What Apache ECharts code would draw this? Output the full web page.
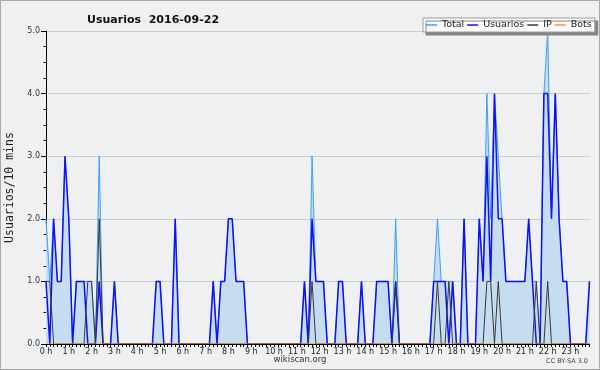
<!DOCTYPE html>
<html>
<head>
<meta charset="utf-8">
<script src="https://cdn.jsdelivr.net/npm/echarts@6/dist/echarts.min.js"></script>
<style>
  html, body { margin: 0; padding: 0; background: #eff0f1; }
  #chart { width: 600px; height: 370px; }
</style>
</head>
<body>
<div id="chart"></div>
<script>
const chart = echarts.init(document.getElementById('chart'));

const hourLabels = ['0 h','1 h','2 h','3 h','4 h','5 h','6 h','7 h','8 h','9 h','10 h','11 h',
  '12 h','13 h','14 h','15 h','16 h','17 h','18 h','19 h','20 h','21 h','22 h','23 h'];

// one slot every 10 minutes
const categories = [];
for (let i = 0; i < 144; i++) {
  categories.push(Math.floor(i / 6) + ':' + String((i % 6) * 10).padStart(2, '0'));
}

// prettier-ignore
const total = [
  2,1,2,1,1,3,2,0,1,1, 1,1,1,0,3,0,0,0,1,0, 0,0,0,0,0,0,0,0,0,1,
  1,0,0,0,2,0,0,0,0,0, 0,0,0,0,1,0,1,1,2,2, 1,1,1,0,0,0,0,0,0,0,
  0,0,0,0,0,0,0,0,1,0, 3,1,1,1,0,0,0,1,1,0, 0,0,0,1,0,0,0,1,1,1,
  1,0,2,0,0,0,0,0,0,0, 0,0,1,2,1,1,1,1,0,0, 2,0,0,0,2,1,4,2,4,3,
  2,1,1,1,1,1,1,2,1,1, 0,4,5,2,4,2,1,1,0,0, 0,0,0,1];
// prettier-ignore
const usuarios = [
  1,0,2,1,1,3,2,0,1,1, 1,0,0,0,1,0,0,0,1,0, 0,0,0,0,0,0,0,0,0,1,
  1,0,0,0,2,0,0,0,0,0, 0,0,0,0,1,0,1,1,2,2, 1,1,1,0,0,0,0,0,0,0,
  0,0,0,0,0,0,0,0,1,0, 2,1,1,1,0,0,0,1,1,0, 0,0,0,1,0,0,0,1,1,1,
  1,0,1,0,0,0,0,0,0,0, 0,0,1,1,1,1,0,1,0,0, 2,0,0,0,2,1,3,1,4,2,
  2,1,1,1,1,1,1,2,1,0, 0,4,4,2,4,2,1,1,0,0, 0,0,0,1];
// prettier-ignore
const ip = [
  1,1,0,0,0,0,0,0,0,0, 0,1,1,0,2,0,0,0,0,0, 0,0,0,0,0,0,0,0,0,0,
  0,0,0,0,0,0,0,0,0,0, 0,0,0,0,0,0,0,0,0,0, 0,0,0,0,0,0,0,0,0,0,
  0,0,0,0,0,0,0,0,0,0, 1,0,0,0,0,0,0,0,0,0, 0,0,0,0,0,0,0,0,0,0,
  0,0,1,0,0,0,0,0,0,0, 0,0,0,1,0,0,1,0,0,0, 0,0,0,0,0,0,1,1,0,1,
  0,0,0,0,0,0,0,0,0,1, 0,0,1,0,0,0,0,0,0,0, 0,0,0,0];
// prettier-ignore
const bots = [
  0,0,0,0,0,0,0,0,0,0, 0,0,0,0,0,0,0,0,0,0, 0,0,0,0,0,0,0,0,0,0,
  0,0,0,0,0,0,0,0,0,0, 0,0,0,0,0,0,0,0,0,0, 0,0,0,0,0,0,0,0,0,0,
  0,0,0,0,0,0,0,0,0,0, 0,0,0,0,0,0,0,0,0,0, 0,0,0,0,0,0,0,0,0,0,
  0,0,0,0,0,0,0,0,0,0, 0,0,0,0,0,0,0,0,0,0, 0,0,0,0,0,0,0,0,0,0,
  0,0,0,0,0,0,0,0,0,0, 0,0,0,0,0,0,0,0,0,0, 0,0,0,0];

const font = "'DejaVu Sans', sans-serif";

const option = {
  animation: false,
  backgroundColor: '#eff0f1',
  title: {
    text: 'Usuarios  2016-09-22',
    left: 82,
    top: 10,
    textStyle: { fontSize: 11, fontWeight: 'bold', color: '#111', fontFamily: font }
  },
  legend: {
    left: 423,
    top: 18,
    padding: [2, 3],
    itemGap: 3,
    itemWidth: 11,
    itemHeight: 1.5,
    icon: 'rect',
    backgroundColor: '#fff',
    borderColor: '#999',
    borderWidth: 1,
    shadowColor: '#858585',
    shadowBlur: 0,
    shadowOffsetX: 3,
    shadowOffsetY: 3,
    textStyle: { fontSize: 9.5, color: '#222', fontFamily: font },
    data: ['Total', 'Usuarios', 'IP', 'Bots']
  },
  grid: { left: 46, right: 10.5, top: 31, bottom: 26, outerBoundsMode: 'none' },
  xAxis: {
    type: 'category',
    data: categories,
    boundaryGap: false,
    z: 10,
    axisLine: { lineStyle: { color: '#000', width: 1 } },
    axisTick: { interval: 0, length: 3, lineStyle: { color: '#000' } },
    axisLabel: {
      interval: 5,
      margin: 4,
      fontSize: 8,
      color: '#222',
      fontFamily: font,
      formatter: function (value, index) { return hourLabels[index / 6]; }
    }
  },
  yAxis: {
    type: 'value',
    min: 0,
    max: 5,
    interval: 1,
    name: 'Usuarios/10 mins',
    nameLocation: 'middle',
    nameRotate: 90,
    nameGap: 30,
    nameTextStyle: { fontSize: 11.5, color: '#222', fontFamily: "'DejaVu Sans Mono', monospace" },
    axisLine: { show: true, lineStyle: { color: '#000' } },
    axisTick: { show: true, length: 5, lineStyle: { color: '#000' } },
    minorTick: { show: true, splitNumber: 4, length: 2.5, lineStyle: { color: '#000' } },
    axisLabel: {
      fontSize: 8,
      margin: 6,
      color: '#333',
      fontFamily: font,
      formatter: function (v) { return v.toFixed(1); }
    },
    splitLine: { lineStyle: { color: '#cdcdcd' } }
  },
  graphic: [
    {
      type: 'rect',
      shape: { x: 0.5, y: 0.5, width: 599, height: 369 },
      style: { fill: 'none', stroke: '#a8a8a8', lineWidth: 1 },
      silent: true
    },
    {
      type: 'text',
      left: 'center',
      top: 355,
      style: { text: 'wikiscan.org', fontSize: 8.5, fill: '#333', fontFamily: font }
    },
    {
      type: 'text',
      right: 12,
      top: 358,
      style: { text: 'CC BY-SA 3.0', fontSize: 6.5, fill: '#444', fontFamily: font }
    }
  ],
  series: [
    {
      name: 'Total',
      type: 'line',
      data: total,
      symbol: 'none',
      itemStyle: { color: '#3d9eff' },
      lineStyle: { color: '#3d9eff', width: 1 },
      areaStyle: { color: '#c6dcf0', opacity: 1 }
    },
    {
      name: 'Usuarios',
      type: 'line',
      data: usuarios,
      symbol: 'none',
      itemStyle: { color: '#1010ff' },
      lineStyle: { color: '#1010ff', width: 1.5 }
    },
    {
      name: 'IP',
      type: 'line',
      data: ip,
      symbol: 'none',
      itemStyle: { color: '#3a3a3a' },
      lineStyle: { color: '#3a3a3a', width: 1 }
    },
    {
      name: 'Bots',
      type: 'line',
      data: bots,
      symbol: 'none',
      itemStyle: { color: '#ff9900' },
      lineStyle: { color: '#ff9900', width: 1 }
    }
  ]
};

chart.setOption(option);
window.addEventListener('resize', function () { chart.resize(); });
</script>
</body>
</html>
